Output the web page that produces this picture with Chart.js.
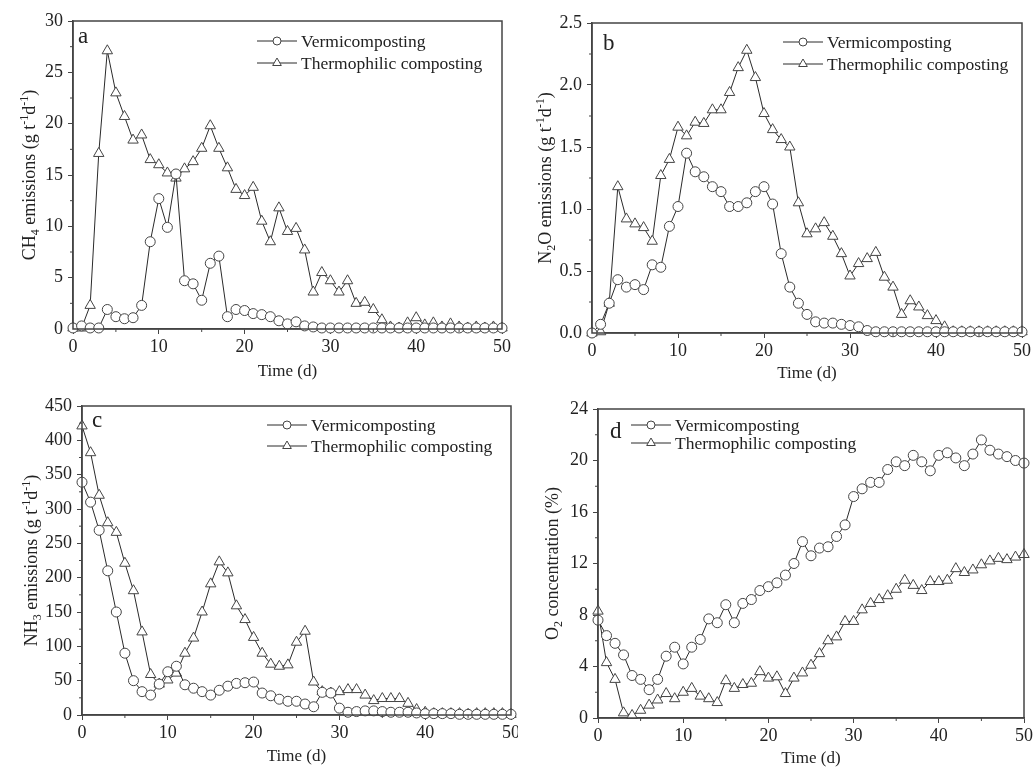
<!DOCTYPE html>
<html>
<head>
<meta charset="utf-8">
<script src="https://cdn.jsdelivr.net/npm/chart.js@4.4.1/dist/chart.umd.min.js"></script>
<style>
  body { margin: 0; background: #fff; width: 1036px; height: 767px; overflow: hidden; position: relative; }
  .panel { position: absolute; }
</style>
</head>
<body>
<div class="panel" style="left:0;top:0;width:518px;height:390px"><canvas id="chA"></canvas></div>
<div class="panel" style="left:518px;top:0;width:518px;height:390px"><canvas id="chB"></canvas></div>
<div class="panel" style="left:0;top:380px;width:518px;height:387px"><canvas id="chC"></canvas></div>
<div class="panel" style="left:518px;top:380px;width:518px;height:387px"><canvas id="chD"></canvas></div>
<script>
// sampling days
const days = [0,1,2,3,4,5,6,7,8,9,10,11,12,13,14,15,16,17,18,19,20,21,22,23,24,25,26,27,28,29,30,
  31,32,33,34,35,36,37,38,39,40,41,42,43,44,45,46,47,48,49,50];
const seriesNames = ['Vermicomposting', 'Thermophilic composting'];

// (a) CH4 emissions, g t-1 d-1
const ch4Vermi = [0.1,0.3,0.1,0.1,1.9,1.2,1.0,1.1,2.3,8.5, 12.7,9.9,15.1,4.7,4.4,2.8,6.4,7.1,1.2,1.9,
  1.8,1.5,1.4,1.2,0.8,0.5,0.7,0.3,0.2,0.1, 0.1,0.1,0.1,0.1,0.1,0.1,0.1,0.1,0.1,0.1,
  0.1,0.1,0.1,0.1,0.1,0.1,0.1,0.1,0.1,0.1, 0.1];
const ch4Thermo = [0.1,0.1,2.3,17.1,27.1,23.0,20.7,18.4,18.9,16.5, 16.0,15.2,14.7,15.6,16.3,17.6,19.8,17.6,15.7,13.6,
  13.0,13.8,10.5,8.5,11.8,9.5,9.8,7.7,3.6,5.5, 4.7,3.6,4.7,2.5,2.6,1.9,0.9,0.2,0.1,0.6,
  1.1,0.4,0.6,0.2,0.5,0.2,0.1,0.2,0.1,0.2, 0.1];

// (b) N2O emissions, g t-1 d-1
const n2oVermi = [0.0,0.07,0.24,0.43,0.37,0.39,0.35,0.55,0.53,0.86, 1.02,1.45,1.30,1.26,1.18,1.14,1.02,1.02,1.05,1.14,
  1.18,1.04,0.64,0.37,0.24,0.15,0.09,0.08,0.08,0.07, 0.06,0.05,0.02,0.01,0.01,0.01,0.01,0.01,0.01,0.01,
  0.01,0.01,0.01,0.01,0.01,0.01,0.01,0.01,0.01,0.01, 0.01];
const n2oThermo = [0.0,0.01,0.24,1.18,0.92,0.88,0.85,0.74,1.27,1.40, 1.66,1.59,1.70,1.69,1.80,1.80,1.94,2.14,2.28,2.06,
  1.77,1.64,1.56,1.50,1.05,0.80,0.84,0.89,0.78,0.64, 0.46,0.56,0.60,0.65,0.45,0.37,0.15,0.26,0.21,0.14,
  0.10,0.05,0.01,0.01,0.01,0.01,0.01,0.01,0.01,0.01, 0.01];

// (c) NH3 emissions, g t-1 d-1
const nh3Vermi = [339,310,269,210,150,90,50,34,29,45, 63,71,44,39,34,29,36,42,46,47,
  48,32,28,23,20,20,16,12,33,32, 10,4,5,6,6,5,4,4,4,3,
  2,2,2,2,1,1,1,1,1,1, 1];
const nh3Thermo = [421,382,320,280,266,221,181,121,59,45, 51,61,90,112,150,191,223,207,159,139,
  113,90,74,71,73,106,122,48,34,32, 34,37,37,29,21,24,24,24,17,8,
  4,2,2,2,2,1,2,2,2,2, 1];

// (d) O2 concentration, %
const o2Vermi = [7.6,6.4,5.8,4.9,3.3,3.0,2.2,3.0,4.8,5.5, 4.2,5.5,6.1,7.7,7.4,8.8,7.4,8.9,9.2,9.9,
  10.2,10.5,11.1,12.0,13.7,12.6,13.2,13.3,14.1,15.0, 17.2,17.8,18.3,18.3,19.3,19.9,19.6,20.4,19.9,19.2,
  20.4,20.6,20.2,19.6,20.5,21.6,20.8,20.5,20.3,20.0, 19.8];
const o2Thermo = [8.3,4.3,3.0,0.4,0.2,0.6,1.0,1.4,1.9,1.5, 2.0,2.3,1.7,1.5,1.2,2.9,2.3,2.6,2.7,3.6,
  3.1,3.2,1.9,3.1,3.5,4.1,5.0,6.0,6.3,7.5, 7.5,8.4,8.9,9.2,9.5,10.0,10.7,10.3,9.9,10.6,
  10.6,10.7,11.6,11.3,11.5,11.9,12.2,12.4,12.3,12.5, 12.7];

const FONT = '"Liberation Serif", "Times New Roman", serif';
const INK = '#2a2a2a';
Chart.defaults.font.family = FONT;
Chart.defaults.font.size = 18;
Chart.defaults.color = '#222';

// frame, minor ticks, panel letter, inner legend and y title with sub/superscripts
const extras = {
  id: 'extras',
  afterDraw(chart, args, o) {
    const ctx = chart.ctx, a = chart.chartArea;
    const xs = chart.scales.x, ys = chart.scales.y;
    ctx.save();
    ctx.strokeStyle = '#444';
    ctx.lineWidth = 1.5;
    ctx.strokeRect(a.left, a.top, a.right - a.left, a.bottom - a.top);

    ctx.lineWidth = 1;
    ctx.beginPath();
    for (let v = 5; v < 50; v += 10) {
      const px = xs.getPixelForValue(v);
      ctx.moveTo(px, a.bottom); ctx.lineTo(px, a.bottom + 3);
    }
    for (let v = o.yStep / 2; v < o.yMax; v += o.yStep) {
      const py = ys.getPixelForValue(v);
      ctx.moveTo(a.left, py); ctx.lineTo(a.left - 3, py);
    }
    ctx.stroke();

    // panel letter
    ctx.fillStyle = '#222';
    ctx.font = '23px ' + FONT;
    ctx.textBaseline = 'alphabetic';
    ctx.textAlign = 'left';
    ctx.fillText(o.letter, a.left + o.letX, a.top + o.letY);

    // legend
    ctx.font = '17.5px ' + FONT;
    ctx.textBaseline = 'middle';
    chart.data.datasets.forEach((ds, i) => {
      const x = a.left + o.legX, y = a.top + o.legY + i * o.legGap;
      ctx.strokeStyle = INK; ctx.lineWidth = 1;
      ctx.beginPath(); ctx.moveTo(x, y); ctx.lineTo(x + 40, y); ctx.stroke();
      ctx.fillStyle = '#fff'; ctx.strokeStyle = '#444';
      Chart.helpers.drawPoint(ctx, {pointStyle: ds.pointStyle, radius: ds.pointRadius - 1, borderWidth: 1, rotation: 0}, x + 20, y);
      ctx.fillStyle = '#222';
      ctx.fillText(ds.label, x + 44, y + 1);
    });

    // y title
    const size = 18, small = 12;
    const segs = o.yTitle;
    ctx.translate(o.yTitleX, (a.top + a.bottom) / 2);
    ctx.rotate(-Math.PI / 2);
    ctx.textBaseline = 'alphabetic';
    let total = 0;
    segs.forEach(s => {
      ctx.font = (s[1] ? small : size) + 'px ' + FONT;
      total += ctx.measureText(s[0]).width;
    });
    let cx = -total / 2;
    ctx.fillStyle = '#222';
    segs.forEach(s => {
      ctx.font = (s[1] ? small : size) + 'px ' + FONT;
      const dy = s[1] === -1 ? 4 : (s[1] === 1 ? -7 : 0);
      ctx.fillText(s[0], cx, dy);
      cx += ctx.measureText(s[0]).width;
    });
    ctx.restore();
  }
};

function makeChart(id, p) {
  const pts = arr => days.map((d, i) => ({x: d, y: arr[i]}));
  const common = {
    borderColor: INK, borderWidth: 1, backgroundColor: '#fff',
    pointBackgroundColor: '#fff', pointBorderColor: '#444', pointBorderWidth: 1,
    pointHoverRadius: 5, tension: 0, clip: false
  };
  const tickGrid = {drawOnChartArea: false, drawTicks: true, tickLength: 5, color: '#444', tickWidth: 1};
  new Chart(document.getElementById(id), {
    type: 'line',
    data: {
      datasets: [
        Object.assign({label: seriesNames[0], data: pts(p.vermi), pointStyle: 'circle', pointRadius: 5}, common),
        Object.assign({label: seriesNames[1], data: pts(p.thermo), pointStyle: 'triangle', pointRadius: 6}, common)
      ]
    },
    options: {
      responsive: true,
      maintainAspectRatio: false,
      animation: false,
      events: [],
      layout: {padding: {top: p.top, right: p.right, left: 0, bottom: 0}},
      plugins: {
        legend: {display: false},
        tooltip: {enabled: false},
        extras: {letter: p.letter, letX: p.letX, letY: p.letY, legX: p.legX, legY: p.legY, legGap: p.legGap,
          yTitle: p.yTitle, yTitleX: p.yTitleX, yStep: p.yStep, yMax: p.yMax}
      },
      scales: {
        x: {
          type: 'linear', min: 0, max: 50,
          ticks: {stepSize: 10, padding: 2, maxRotation: 0, autoSkip: false},
          grid: tickGrid,
          border: {color: '#444', width: 1.5},
          title: {display: true, text: 'Time (d)', font: {size: 17, lineHeight: 1}, padding: {top: 0, bottom: p.xtPad}},
          afterFit: s => { s.height = p.xh; s.paddingLeft = 0; s.paddingRight = 0; }
        },
        y: {
          min: 0, max: p.yMax,
          ticks: {stepSize: p.yStep, padding: 5, callback: v => v.toFixed(p.dec)},
          grid: tickGrid,
          border: {color: '#444', width: 1.5},
          afterFit: s => { s.width = p.yw; s.paddingTop = 0; s.paddingBottom = 0; }
        }
      }
    },
    plugins: [extras]
  });
}

makeChart('chA', {vermi: ch4Vermi, thermo: ch4Thermo, yMax: 30, yStep: 5, dec: 0, letter: 'a',
  yw: 73, xh: 61, top: 21, right: 16, xtPad: 9.5, yTitleX: 35,
  letX: 5, letY: 22, legX: 184, legY: 20, legGap: 22,
  yTitle: [['CH', 0], ['4', -1], [' emissions (g t', 0], ['-1', 1], ['d', 0], ['-1', 1], [')', 0]]});

makeChart('chB', {vermi: n2oVermi, thermo: n2oThermo, yMax: 2.5, yStep: 0.5, dec: 1, letter: 'b',
  yw: 74, xh: 57, top: 23, right: 14, xtPad: 7.5, yTitleX: 33,
  letX: 11, letY: 27, legX: 191, legY: 19, legGap: 22,
  yTitle: [['N', 0], ['2', -1], ['O emissions (g t', 0], ['-1', 1], ['d', 0], ['-1', 1], [')', 0]]});

makeChart('chC', {vermi: nh3Vermi, thermo: nh3Thermo, yMax: 450, yStep: 50, dec: 0, letter: 'c',
  yw: 82, xh: 52, top: 26, right: 7, xtPad: 1.5, yTitleX: 37,
  letX: 10, letY: 21, legX: 185, legY: 19, legGap: 21,
  yTitle: [['NH', 0], ['3', -1], [' emissions (g t', 0], ['-1', 1], ['d', 0], ['-1', 1], [')', 0]]});

makeChart('chD', {vermi: o2Vermi, thermo: o2Thermo, yMax: 24, yStep: 4, dec: 0, letter: 'd',
  yw: 80, xh: 49, top: 29, right: 12, xtPad: 0, yTitleX: 40,
  letX: 12, letY: 29, legX: 33, legY: 16, legGap: 18,
  yTitle: [['O', 0], ['2', -1], [' concentration (%)', 0]]});
</script>
</body>
</html>
